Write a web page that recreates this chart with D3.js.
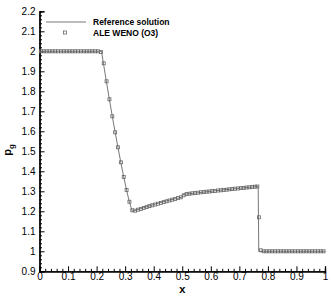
<!DOCTYPE html>
<html><head><meta charset="utf-8">
<script src="https://cdn.jsdelivr.net/npm/d3@7"></script>
<style>body{margin:0;background:#fff}svg{display:block}</style>
</head><body>
<script>
// ---- data ----
const refX = [0, 0.217, 0.225, 0.235, 0.245, 0.255, 0.265, 0.275, 0.285, 0.295, 0.305, 0.315, 0.325, 0.33, 0.34, 0.35, 0.40, 0.45, 0.50, 0.503, 0.51, 0.55, 0.60, 0.65, 0.70, 0.75, 0.766, 0.768, 1.0];
const refY = [2.0, 2.0, 1.930, 1.843, 1.758, 1.675, 1.595, 1.518, 1.443, 1.372, 1.306, 1.246, 1.200, 1.202, 1.206, 1.211, 1.234, 1.254, 1.271, 1.284, 1.286, 1.292, 1.300, 1.308, 1.315, 1.322, 1.325, 1.0, 1.0];

const numX = [0.005,0.015,0.025,0.035,0.045,0.055,0.065,0.075,0.085,0.095,
  0.105,0.115,0.125,0.135,0.145,0.155,0.165,0.175,0.185,0.195,
  0.205,0.215,0.225,0.235,0.245,0.255,0.265,0.275,0.285,0.295,
  0.305,0.315,0.325,0.335,0.345,0.355,0.365,0.375,0.385,0.395,
  0.405,0.415,0.425,0.435,0.445,0.455,0.465,0.475,0.485,0.495,
  0.505,0.515,0.525,0.535,0.545,0.555,0.565,0.575,0.585,0.595,
  0.605,0.615,0.625,0.635,0.645,0.655,0.665,0.675,0.685,0.695,
  0.705,0.715,0.725,0.735,0.745,0.755,0.763,0.769,0.775,0.785,
  0.795,0.805,0.815,0.825,0.835,0.845,0.855,0.865,0.875,0.885,
  0.895,0.905,0.915,0.925,0.935,0.945,0.955,0.965,0.975,0.985,0.995];
const numY = [2.0,2.0,2.0,2.0,2.0,2.0,2.0,2.0,2.0,2.0,
  2.0,2.0,2.0,2.0,2.0,2.0,2.0,2.0,2.0,2.0,
  2.0,1.997,1.94,1.85,1.76,1.675,1.595,1.52,1.445,1.372,
  1.307,1.248,1.205,1.203,1.208,1.212,1.217,1.221,1.226,1.230,
  1.234,1.238,1.242,1.246,1.250,1.254,1.258,1.262,1.266,1.270,
  1.280,1.286,1.288,1.290,1.291,1.293,1.295,1.296,1.298,1.299,
  1.301,1.302,1.304,1.305,1.307,1.308,1.310,1.311,1.313,1.314,
  1.316,1.317,1.319,1.320,1.322,1.323,1.324,1.17,1.005,1.0,
  1.0,1.0,1.0,1.0,1.0,1.0,1.0,1.0,1.0,1.0,
  1.0,1.0,1.0,1.0,1.0,1.0,1.0,1.0,1.0,1.0,1.0];

const xTicks = [0,0.1,0.2,0.3,0.4,0.5,0.6,0.7,0.8,0.9,1];
const xTickLabels = ["0","0.1","0.2","0.3","0.4","0.5","0.6","0.7","0.8","0.9","1"];
const yTicks = [0.9,1.0,1.1,1.2,1.3,1.4,1.5,1.6,1.7,1.8,1.9,2.0,2.1,2.2];
const yTickLabels = ["0.9","1","1.1","1.2","1.3","1.4","1.5","1.6","1.7","1.8","1.9","2","2.1","2.2"];
const legendLabels = ["Reference solution", "ALE WENO (O3)"];

// ---- drawing ----
const W = 332, H = 296;
const L = 39.5, R = 325, T = 11.3, B = 271.3;
const font = "'Liberation Sans', Arial, Helvetica, sans-serif";

const svg = d3.select("body").append("svg").attr("width", W).attr("height", H);
const x = d3.scaleLinear().domain([0, 1]).range([L, R]);
const y = d3.scaleLinear().domain([0.9, 2.2]).range([B, T]);

// minor ticks
const xMinor = d3.range(0, 50).map(i => i * 0.02).filter(v => Math.round(v * 100) % 10 !== 0);
const yMinor = d3.range(0, 65).map(i => 0.9 + i * 0.02).filter(v => Math.abs(Math.round(v * 10) - v * 10) > 1e-6);

const gx = svg.append("g").attr("transform", `translate(0,${B})`);
gx.call(d3.axisBottom(x).tickValues(xMinor).tickSize(-2.5).tickFormat(""));
const gx2 = svg.append("g").attr("transform", `translate(0,${B})`);
gx2.call(d3.axisBottom(x).tickValues(xTicks).tickSize(-5).tickPadding(2)
  .tickFormat((d, i) => xTickLabels[i]));

const gy = svg.append("g").attr("transform", `translate(${L},0)`);
gy.call(d3.axisLeft(y).tickValues(yMinor).tickSize(-2.5).tickFormat(""));
const gy2 = svg.append("g").attr("transform", `translate(${L},0)`);
gy2.call(d3.axisLeft(y).tickValues(yTicks).tickSize(-5).tickPadding(4)
  .tickFormat((d, i) => yTickLabels[i]));

svg.selectAll(".domain").attr("stroke", "#000").attr("stroke-width", 1.3);
svg.selectAll(".tick line").attr("stroke", "#000").attr("stroke-width", 1);
svg.selectAll(".tick text").attr("font-family", font).attr("font-size", 10).attr("fill", "#000");

// reference line
const line = d3.line().x((d, i) => x(refX[i])).y((d, i) => y(refY[i]));
svg.append("path").datum(refX).attr("d", line)
  .attr("fill", "none").attr("stroke", "#777").attr("stroke-width", 1);

// numerical markers
const ms = 3;
svg.append("g").selectAll("rect").data(numX).join("rect")
  .attr("x", (d) => x(d) - ms / 2)
  .attr("y", (d, i) => y(numY[i]) - ms / 2)
  .attr("width", ms).attr("height", ms)
  .attr("fill", "none").attr("stroke", "#666").attr("stroke-width", 0.8);

// axis titles
svg.append("text").attr("x", (L + R) / 2).attr("y", 293)
  .attr("text-anchor", "middle").attr("font-family", font)
  .attr("font-weight", "bold").attr("font-size", 11).text("x");
const pt = svg.append("text").attr("transform", "translate(11,150) rotate(-90)")
  .attr("text-anchor", "middle").attr("font-family", font)
  .attr("font-weight", "bold").attr("font-size", 11);
pt.append("tspan").text("p");
pt.append("tspan").attr("font-size", 8).attr("dy", 3).text("g");

// legend
const lg = svg.append("g");
lg.append("line").attr("x1", 46).attr("x2", 86).attr("y1", 22).attr("y2", 22)
  .attr("stroke", "#777").attr("stroke-width", 1);
lg.append("rect").attr("x", 65 - 1.5).attr("y", 32.5 - 1.5).attr("width", 3).attr("height", 3)
  .attr("fill", "none").attr("stroke", "#666").attr("stroke-width", 0.8);
lg.selectAll("text").data(legendLabels).join("text")
  .attr("x", 93).attr("y", (d, i) => 25 + i * 11)
  .attr("font-family", font).attr("font-weight", "bold").attr("font-size", 8.5)
  .text(d => d);
</script>
</body></html>
